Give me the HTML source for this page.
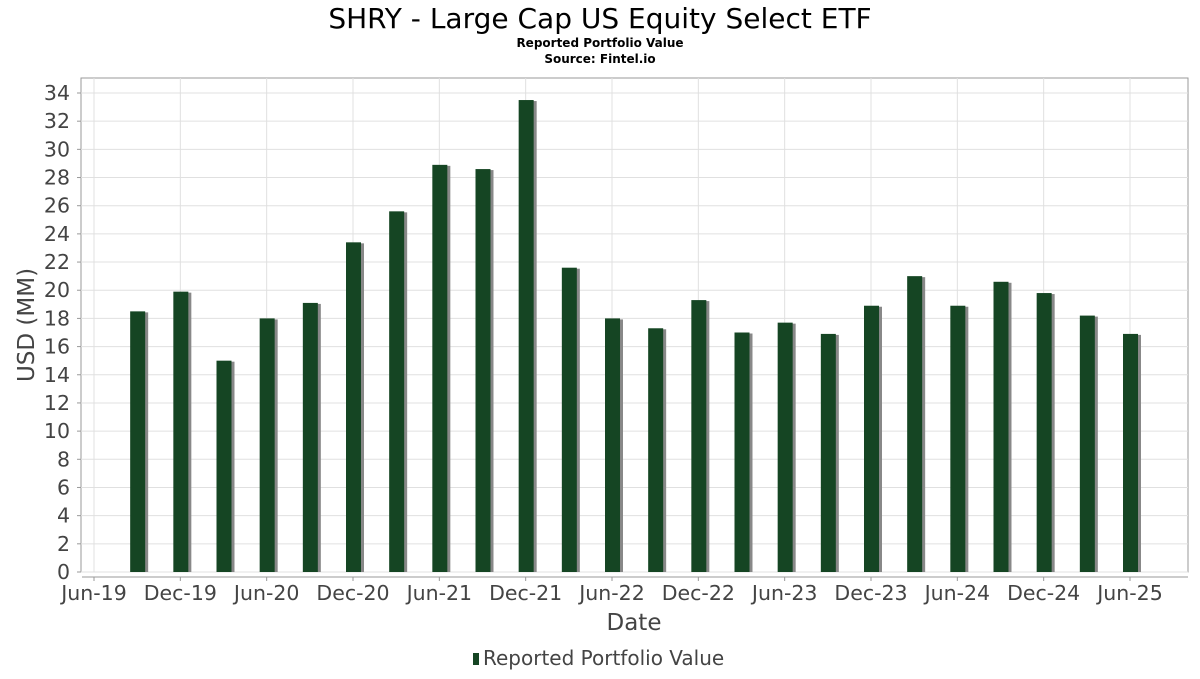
<!DOCTYPE html>
<html><head><meta charset="utf-8"><style>
body{margin:0;background:#fff;font-family:"DejaVu Sans","Liberation Sans",sans-serif;}
</style></head><body>
<svg id="chart" width="1200" height="675" xmlns="http://www.w3.org/2000/svg" font-family="DejaVu Sans, Liberation Sans, sans-serif">
<text x="600" y="28" text-anchor="middle" font-size="28" fill="#000">SHRY - Large Cap US Equity Select ETF</text>
<text x="600" y="47" text-anchor="middle" font-size="12" font-weight="bold" fill="#000">Reported Portfolio Value</text>
<text x="600" y="63" text-anchor="middle" font-size="12" font-weight="bold" fill="#000">Source: Fintel.io</text>
<rect x="81" y="78" width="1107" height="494" fill="#fff" stroke="#999"/>
<g id="grid"></g><g id="bars"></g><g id="axes"></g>
<text transform="translate(34,325) rotate(-90)" text-anchor="middle" font-size="23" fill="#444">USD (MM)</text>
<text x="634" y="630" text-anchor="middle" font-size="23" fill="#444">Date</text>
<g>
<rect x="473" y="653" width="6" height="12" fill="#154523"/>
<text x="483" y="665" font-size="20" fill="#444">Reported Portfolio Value</text>
</g>
</svg>
<script>
const categories=["Sep-19","Dec-19","Mar-20","Jun-20","Sep-20","Dec-20","Mar-21","Jun-21","Sep-21","Dec-21","Mar-22","Jun-22","Sep-22","Dec-22","Mar-23","Jun-23","Sep-23","Dec-23","Mar-24","Jun-24","Sep-24","Dec-24","Mar-25","Jun-25"];
const values=[18.5,19.9,15.0,18.0,19.1,23.4,25.6,28.9,28.6,33.5,21.6,18.0,17.3,19.3,17.0,17.7,16.9,18.9,21.0,18.9,20.6,19.8,18.2,16.9];
const xTickLabels=["Jun-19","Dec-19","Jun-20","Dec-20","Jun-21","Dec-21","Jun-22","Dec-22","Jun-23","Dec-23","Jun-24","Dec-24","Jun-25"];
const yTicks=[0,2,4,6,8,10,12,14,16,18,20,22,24,26,28,30,32,34];
const NS="http://www.w3.org/2000/svg";
const y0=572,yScale=(572-93)/34;
function y(v){return y0-v*yScale;}
const qStep=(1130-94)/24;
function xQ(i){return 94+qStep*(i+1);}
function xT(i){return 94+qStep*2*i;}
function mk(tag,attrs,parent){const e=document.createElementNS(NS,tag);for(const k in attrs)e.setAttribute(k,attrs[k]);parent.appendChild(e);return e;}
const grid=document.getElementById('grid'),bars=document.getElementById('bars'),axes=document.getElementById('axes');
yTicks.forEach(t=>{
 const l=mk('line',{x1:81,x2:1188,y1:y(t),y2:y(t),stroke:'#e0e0e0'},grid);
 
 
 mk('line',{x1:77,x2:81,y1:y(t),y2:y(t),stroke:'#999'},axes);
 const tx=mk('text',{x:70,y:y(t)+7,'text-anchor':'end','font-size':20.5,fill:'#444'},axes);
 tx.textContent=t;
 
 
});
mk('line',{x1:82,x2:1188,y1:577,y2:577,stroke:'#999'},axes);
xTickLabels.forEach((s,i)=>{
 const x=xT(i);
 const l=mk('line',{x1:x,x2:x,y1:78,y2:572,stroke:'#e0e0e0'},grid);
 
 
 mk('line',{x1:x,x2:x,y1:577,y2:581,stroke:'#999'},axes);
 const tx=mk('text',{x:x,y:600,'text-anchor':'middle','font-size':20.5,fill:'#444'},axes);
 tx.textContent=s;
 
 
});
values.forEach((v,i)=>{
 const cx=xQ(i)+1;
 const sh=mk('rect',{x:cx-5,y:y(v)+1,width:15,height:y0-y(v)-1,fill:'#888'},bars);
 
 
 const b=mk('rect',{x:cx-8,y:y(v),width:15,height:y0-y(v),fill:'#154523'},bars);
 
 
});
</script>
</body></html>
